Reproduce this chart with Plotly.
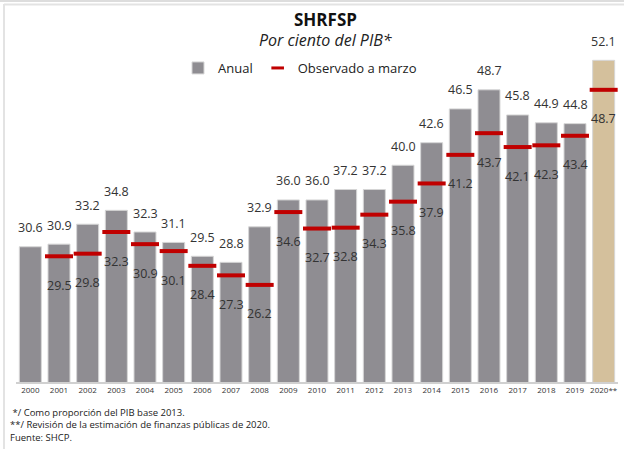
import plotly.graph_objects as go

years = ["2000", "2001", "2002", "2003", "2004", "2005", "2006", "2007", "2008", "2009",
         "2010", "2011", "2012", "2013", "2014", "2015", "2016", "2017", "2018", "2019", "2020**"]
anual = [30.6, 30.9, 33.2, 34.8, 32.3, 31.1, 29.5, 28.8, 32.9, 36.0,
         36.0, 37.2, 37.2, 40.0, 42.6, 46.5, 48.7, 45.8, 44.9, 44.8, 52.1]
observado = [None, 29.5, 29.8, 32.3, 30.9, 30.1, 28.4, 27.3, 26.2, 34.6,
             32.7, 32.8, 34.3, 35.8, 37.9, 41.2, 43.7, 42.1, 42.3, 43.4, 48.7]

FONT = "Open Sans"
GRAY = "#8F8D92"
TAN = "#D4C09C"
RED = "#C00000"
TXT = "#333333"

idx = list(range(len(years)))
bar_colors = [GRAY] * (len(years) - 1) + [TAN]

fig = go.Figure()
fig.add_trace(go.Bar(
    x=idx, y=anual, name="Anual",
    marker=dict(color=bar_colors, line=dict(color="#D6D6D6", width=1)),
))
fig.add_trace(go.Scatter(
    x=idx, y=observado, mode="markers", name="Observado a marzo", showlegend=False,
    marker=dict(symbol="line-ew", size=20, line=dict(color=RED, width=4), color=RED),
))
# legend entry for the red dash (shorter, as in the reference legend)
fig.add_trace(go.Scatter(
    x=[None], y=[None], mode="markers", name="Observado a marzo",
    marker=dict(symbol="line-ew", size=9, line=dict(color=RED, width=3), color=RED),
))

ann = []
for i, v in zip(idx, anual):
    ann.append(dict(x=i, y=v, xref="x", yref="y", text=f"{v:.1f}", showarrow=False,
                    yshift=19, font=dict(family=FONT, size=12.5, color=TXT)))
for i, v in zip(idx, observado):
    if v is None:
        continue
    ann.append(dict(x=i, y=v, xref="x", yref="y", text=f"{v:.1f}", showarrow=False,
                    yshift=-29, font=dict(family=FONT, size=12.5, color=TXT)))

L, R, T, B = 16, 6, 50, 67
W, H = 624, 449
pw, ph = W - L - R, H - T - B
def px(x):
    return (x - L) / pw
def py(y):
    return (H - B - y) / ph

ann.append(dict(x=px(325), y=py(20), xref="paper", yref="paper", text="<b>SHRFSP</b>",
                xanchor="center", yanchor="middle",
                showarrow=False, font=dict(family=FONT, size=17, color="#111111")))
ann.append(dict(x=px(325), y=py(40), xref="paper", yref="paper", text="<i>Por ciento del PIB*</i>",
                xanchor="center", yanchor="middle",
                showarrow=False, font=dict(family=FONT, size=16, color="#222222")))
foot = [" */ Como proporción del PIB base 2013.",
        "**/ Revisión de la estimación de finanzas públicas de 2020.",
        "Fuente: SHCP."]
ann.append(dict(x=px(8), y=py(425), xref="paper", yref="paper", text="<br>".join(foot),
                xanchor="left", yanchor="middle", align="left", showarrow=False,
                font=dict(family=FONT, size=9.5, color="#222222")))

shapes = [
    dict(type="line", xref="paper", yref="paper", x0=px(0), x1=px(624), y0=py(1), y1=py(1),
         line=dict(color="#DDDDDD", width=2)),
    dict(type="line", xref="paper", yref="paper", x0=px(4), x1=px(624), y0=py(4.5), y1=py(4.5),
         line=dict(color="#E3E3E3", width=2)),
    dict(type="line", xref="paper", yref="paper", x0=px(4), x1=px(4), y0=py(4), y1=py(449),
         line=dict(color="#E3E3E3", width=2)),
]

fig.update_layout(
    width=W, height=H,
    margin=dict(l=L, r=R, t=T, b=B),
    paper_bgcolor="white", plot_bgcolor="white",
    bargap=0.233,
    font=dict(family=FONT, color=TXT),
    annotations=ann,
    shapes=shapes,
    legend=dict(orientation="h", x=px(178), xanchor="left", y=py(68), yanchor="middle",
                font=dict(family=FONT, size=13, color="#222222"), itemwidth=30,
                bgcolor="rgba(0,0,0,0)"),
    xaxis=dict(range=[-0.5, len(years) - 0.5], tickvals=idx, ticktext=years,
               showgrid=False, zeroline=False, showline=True, linecolor="#D0D0D0", linewidth=1.5,
               ticks="", tickfont=dict(family=FONT, size=8, color="#333333")),
    yaxis=dict(range=[15, 15 + ph / 8.67], visible=False, showgrid=False),
)

fig.write_html("out.html", config={"displayModeBar": False},
               post_script="document.body.style.margin='0px';")
